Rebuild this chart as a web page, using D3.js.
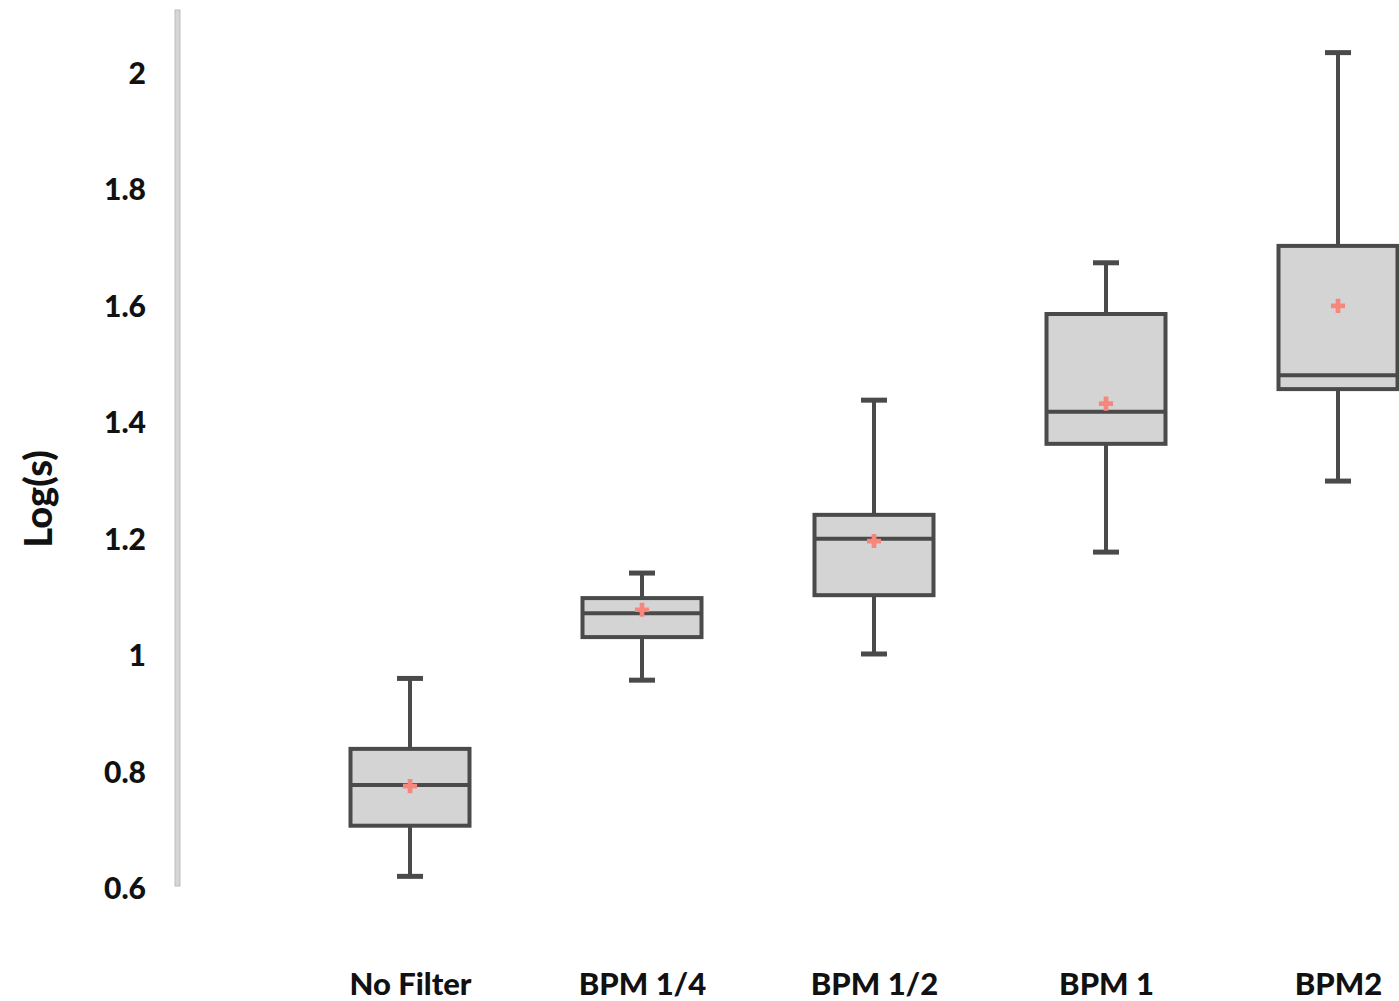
<!DOCTYPE html>
<html>
<head>
<meta charset="utf-8">
<script src="https://cdn.jsdelivr.net/npm/d3@7"></script>
<style>
body { margin: 0; background: #fff; }
text { font-family: Lato, "Open Sans", sans-serif; font-weight: 900; }
</style>
</head>
<body>
<script>
var width = 1399;
var height = 1001;

// values
var categories = ["No Filter", "BPM 1/4", "BPM 1/2", "BPM 1", "BPM2"];
var whiskLow  = [0.62, 0.957, 1.002, 1.177, 1.299];
var q1        = [0.707, 1.031, 1.103, 1.363, 1.457];
var median    = [0.777, 1.072, 1.200, 1.418, 1.481];
var q3        = [0.839, 1.098, 1.241, 1.586, 1.703];
var whiskHigh = [0.96, 1.141, 1.438, 1.674, 2.035];
var means     = [0.775, 1.078, 1.196, 1.432, 1.600];
var yTicks    = [0.6, 0.8, 1, 1.2, 1.4, 1.6, 1.8, 2];

var svg = d3.select("body")
    .append("svg")
    .attr("width", width)
    .attr("height", height);

var y = d3.scaleLinear()
    .domain([0.6, 2])
    .range([888, 73]);

var x = d3.scalePoint()
    .domain(categories)
    .range([410, 1338]);

// axis bar
svg.append("rect")
    .attr("x", 175)
    .attr("y", 10)
    .attr("width", 5)
    .attr("height", 876)
    .attr("fill", "#d6d6d6")
    .attr("stroke", "#bcbcbc")
    .attr("stroke-width", 1);

var yAxis = svg.append("g")
    .attr("transform", "translate(146,0)")
    .call(d3.axisLeft(y).tickValues(yTicks).tickSize(0).tickPadding(0)
        .tickFormat(function(d) { return d3.format("")(d); }));
yAxis.select(".domain").remove();
yAxis.selectAll("text")
    .attr("font-size", 30)
    .attr("fill", "#111")
    .attr("dy", "0.35em");

svg.append("text")
    .attr("transform", "translate(52,499) rotate(-90)")
    .attr("text-anchor", "middle")
    .attr("font-size", 38)
    .attr("fill", "#111")
    .text("Log(s)");

var xAxis = svg.append("g")
    .attr("transform", "translate(0,984)")
    .call(d3.axisBottom(x).tickSize(0).tickPadding(0));
xAxis.select(".domain").remove();
xAxis.selectAll("text")
    .attr("font-size", 31)
    .attr("fill", "#111")
    .attr("dy", "0.35em");

var boxW = 119;
var capW = 26;
var lineCol = "#4a4a4a";

var data = categories.map(function(c, i) {
    return {cat: c, lo: whiskLow[i], q1: q1[i], med: median[i], q3: q3[i], hi: whiskHigh[i], mean: means[i]};
});

var g = svg.selectAll(".box")
    .data(data)
    .enter().append("g")
    .attr("class", "box");

// whiskers
g.append("line")
    .attr("x1", function(d) { return x(d.cat); })
    .attr("x2", function(d) { return x(d.cat); })
    .attr("y1", function(d) { return y(d.hi); })
    .attr("y2", function(d) { return y(d.q3); })
    .attr("stroke", lineCol).attr("stroke-width", 4);
g.append("line")
    .attr("x1", function(d) { return x(d.cat); })
    .attr("x2", function(d) { return x(d.cat); })
    .attr("y1", function(d) { return y(d.q1); })
    .attr("y2", function(d) { return y(d.lo); })
    .attr("stroke", lineCol).attr("stroke-width", 4);

// caps
g.append("line")
    .attr("x1", function(d) { return x(d.cat) - capW / 2; })
    .attr("x2", function(d) { return x(d.cat) + capW / 2; })
    .attr("y1", function(d) { return y(d.hi); })
    .attr("y2", function(d) { return y(d.hi); })
    .attr("stroke", lineCol).attr("stroke-width", 5);
g.append("line")
    .attr("x1", function(d) { return x(d.cat) - capW / 2; })
    .attr("x2", function(d) { return x(d.cat) + capW / 2; })
    .attr("y1", function(d) { return y(d.lo); })
    .attr("y2", function(d) { return y(d.lo); })
    .attr("stroke", lineCol).attr("stroke-width", 5);

// box
g.append("rect")
    .attr("x", function(d) { return x(d.cat) - boxW / 2; })
    .attr("y", function(d) { return y(d.q3); })
    .attr("width", boxW)
    .attr("height", function(d) { return y(d.q1) - y(d.q3); })
    .attr("fill", "#d4d4d4")
    .attr("stroke", lineCol)
    .attr("stroke-width", 4);

// median
g.append("line")
    .attr("x1", function(d) { return x(d.cat) - boxW / 2; })
    .attr("x2", function(d) { return x(d.cat) + boxW / 2; })
    .attr("y1", function(d) { return y(d.med); })
    .attr("y2", function(d) { return y(d.med); })
    .attr("stroke", lineCol).attr("stroke-width", 4);

// mean marker
g.append("path")
    .attr("d", d3.symbol().type(d3.symbolCross).size(110))
    .attr("transform", function(d) { return "translate(" + x(d.cat) + "," + y(d.mean) + ")"; })
    .attr("fill", "#f7877c");
</script>
</body>
</html>
